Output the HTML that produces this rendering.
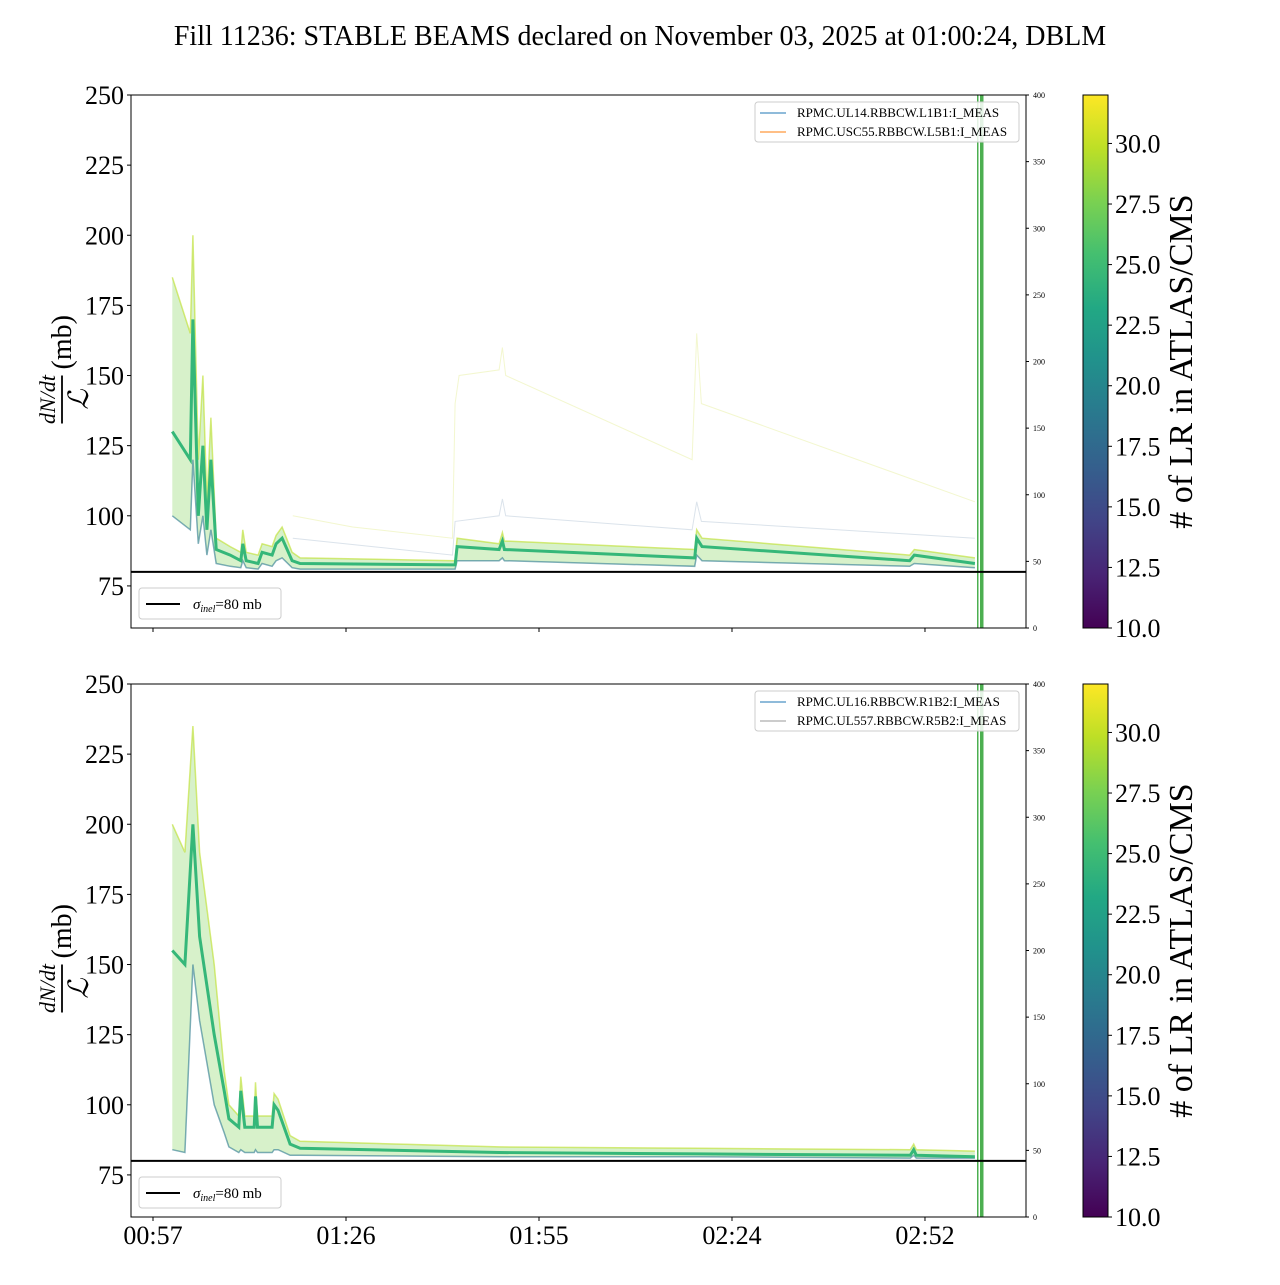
<!DOCTYPE html>
<html><head><meta charset="utf-8">
<style>
html,body{margin:0;padding:0;background:#fff;}
svg text{font-family:"Liberation Serif",serif;fill:#000;}
</style></head>
<body>
<svg id="fig" xmlns="http://www.w3.org/2000/svg" width="1280" height="1280" viewBox="0 0 1280 1280">
<defs>
<linearGradient id="viridis" x1="0" y1="1" x2="0" y2="0">
<stop offset="0" stop-color="#440154"/><stop offset="0.1" stop-color="#482475"/><stop offset="0.2" stop-color="#414487"/><stop offset="0.3" stop-color="#355f8d"/><stop offset="0.4" stop-color="#2a788e"/><stop offset="0.5" stop-color="#21918c"/><stop offset="0.6" stop-color="#22a884"/><stop offset="0.7" stop-color="#44bf70"/><stop offset="0.8" stop-color="#7ad151"/><stop offset="0.9" stop-color="#bddf26"/><stop offset="1" stop-color="#fde725"/>
</linearGradient>
</defs>
<text x="640" y="45" font-size="28" text-anchor="middle">Fill 11236: STABLE BEAMS declared on November 03, 2025 at 01:00:24, DBLM</text>
<g id="root"></g>
</svg>
<script>
// ---- data (time in minutes after 00:57) ----
const xTickLabels = ["00:57","01:26","01:55","02:24","02:52"];
const xTickMinutes = [0, 29, 58, 87, 116];
const yTickValues = [75,100,125,150,175,200,225,250];
const rightTickValues = [0,50,100,150,200,250,300,350,400];
const cbTickValues = [10,12.5,15,17.5,20,22.5,25,27.5,30];
const sigmaInel = 80;

// top panel
const topT    = [2.9,5.6,6.0,6.8,7.5,8.1,8.7,9.5,11.6,13.2,13.5,14.0,15.8,16.4,17.9,18.5,19.4,20.9,22.1,45.4,45.7,52.0,52.5,52.8,81.4,81.7,82.5,113.7,114.4,123.5];
const topMid  = [130,120,170,100,125,95,120,88,86,84,90,84,83,87,86,90,92,84,83,82.5,89,88,91,88,85,92,89,84,86,83];
const topLow  = [100,95,120,90,100,86,95,83,82,81.5,84,81.5,81,83,82,84,85,81.5,81,81,84,84,85,84,82,86,84,82,83,81.5];
const topHigh = [185,165,200,120,150,105,135,92,89,87,95,87,86,90,89,93,96,87,85,84,92,90,94,91,88,95,92,86,88,85];
const ghostYT = [21,30,45,45.4,46,52,52.5,53,81,81.7,82.4,123.5];
const ghostYV = [100,96,92,140,150,152,160,150,120,165,140,105];
const ghostGT = [21,45,45.4,52,52.5,53,81,81.7,82.4,123.5];
const ghostGV = [92,86,98,100,106,100,95,105,98,92];

// bottom panel
const botT    = [2.9,4.8,6.0,7.0,9.2,10.7,11.4,12.9,13.2,13.8,15.2,15.4,15.7,17.9,18.2,18.8,20.6,22.1,52.0,82.0,113.8,114.3,114.7,123.5];
const botMid  = [155,150,200,160,125,105,95,92,105,92,92,103,92,92,100,98,86,84.5,83,82.5,82,84,82,81.5];
const botLow  = [84,83,150,130,100,90,85,83,84,83,83,84,83,83,84,84,82,82,81.5,81.5,81,82,81,81];
const botHigh = [200,190,235,190,150,112,100,96,110,96,96,108,96,96,104,102,89,87,85,84.5,84,86,84,83.5];

// ---- layout ----
const X0=153, PXMIN=6.655;
function xs(t){return X0+t*PXMIN;}
function mkY(top,bottom){return v=>bottom-(v-60)*(bottom-top)/190;}
const NS="http://www.w3.org/2000/svg";
const root=document.getElementById('root');
function el(tag,attrs,parent){const e=document.createElementNS(NS,tag);for(const k in attrs)e.setAttribute(k,attrs[k]);(parent||root).appendChild(e);return e;}
function pts(T,V,ys){return T.map((t,i)=>xs(t).toFixed(1)+","+ys(V[i]).toFixed(1)).join(" ");}

function panel(top,bottom,T,low,mid,high,ghosts,legendNames,legendColors,showXLabels,prefix){
  const ys=mkY(top,bottom);
  const L=131,R=1026;
  const g=el('g',{});
  
  
  const clip=el('clipPath',{id:prefix+'clip'},g);
  el('rect',{x:L,y:top,width:R-L,height:bottom-top},clip);
  const plot=el('g',{'clip-path':'url(#'+prefix+'clip)'},g);
  const band=el('polygon',{points:pts(T,high,ys)+" "+pts(T.slice().reverse(),low.slice().reverse(),ys),fill:'#7ad151','fill-opacity':'0.3',stroke:'none'},plot);
  
  
  ghosts.forEach((gh,i)=>{
    const p=el('polyline',{points:pts(gh[0],gh[1],ys),fill:'none',stroke:gh[2],'stroke-width':1,'stroke-opacity':0.5},plot);
    
    
  });
  const hl=el('polyline',{points:pts(T,high,ys),fill:'none',stroke:'#bddf26','stroke-width':1.5,'stroke-opacity':0.6},plot);
  
  
  const ll=el('polyline',{points:pts(T,low,ys),fill:'none',stroke:'#2a788e','stroke-width':1.5,'stroke-opacity':0.6},plot);
  
  
  const ml=el('polyline',{points:pts(T,mid,ys),fill:'none',stroke:'#35b779','stroke-width':3},plot);
  
  
  el('rect',{x:977,y:top,width:1.5,height:bottom-top,fill:'#4caf50'},plot);
  el('rect',{x:980,y:top,width:3.5,height:bottom-top,fill:'#4caf50'},plot);
  const sl=el('line',{x1:L,x2:R,y1:ys(sigmaInel),y2:ys(sigmaInel),stroke:'#000','stroke-width':2},g);
  
  
  const fr=el('rect',{x:L,y:top,width:R-L,height:bottom-top,fill:'none',stroke:'#000','stroke-width':1},g);
  
  
  yTickValues.forEach(v=>{
    const y=ys(v);
    el('line',{x1:L-4,x2:L,y1:y,y2:y,stroke:'#000'},g);
    const t=el('text',{x:L-7,y:y+9,'font-size':26,'text-anchor':'end'},g);
    t.textContent=v;
    
    
  });
  rightTickValues.forEach(v=>{
    const y=bottom-v*(bottom-top)/400;
    el('line',{x1:R,x2:R+3,y1:y,y2:y,stroke:'#000'},g);
    const t=el('text',{x:R+7,y:y+3,'font-size':8},g);
    t.textContent=v;
    
    
  });
  xTickMinutes.forEach((m,i)=>{
    const x=xs(m);
    el('line',{x1:x,x2:x,y1:bottom,y2:bottom+4,stroke:'#000'},g);
    if(showXLabels){
      const t=el('text',{x:x,y:bottom+27,'font-size':26,'text-anchor':'middle'},g);
      t.textContent=xTickLabels[i];
      
      
    }
  });
  const yl=el('g',{transform:'translate(62,'+((top+bottom)/2)+') rotate(-90)'},g);
  
  
  const a=el('text',{x:-38,y:-7,'font-size':22,'text-anchor':'middle','font-style':'italic'},yl);a.textContent='dN/dt';
  el('line',{x1:-62,x2:-14,y1:0,y2:0,stroke:'#000','stroke-width':1.8},yl);
  const b=el('text',{x:-38,y:26,'font-size':28,'text-anchor':'middle','font-style':'italic'},yl);b.textContent='ℒ';
  const c=el('text',{x:-8,y:9,'font-size':28},yl);c.textContent=' (mb)';
  const lg=el('g',{},g);
  
  
  el('rect',{x:139,y:bottom-40,width:142,height:31,rx:3,fill:'#fff',stroke:'#ccc'},lg);
  el('line',{x1:146,x2:180,y1:bottom-24,y2:bottom-24,stroke:'#000','stroke-width':2},lg);
  const st=el('text',{x:193,y:bottom-19,'font-size':15},lg);
  st.innerHTML='<tspan font-style="italic">σ</tspan><tspan font-style="italic" font-size="10" dy="3">inel</tspan><tspan dy="-3">=80 mb</tspan>';
  const rg=el('g',{},g);
  
  
  el('rect',{x:755,y:top+7,width:264,height:40,rx:3,fill:'#fff','fill-opacity':0.85,stroke:'#ccc'},rg);
  legendNames.forEach((n,i)=>{
    const y=top+18+i*19;
    el('line',{x1:760,x2:786,y1:y,y2:y,stroke:legendColors[i],'stroke-width':1},rg);
    const t=el('text',{x:797,y:y+4,'font-size':13},rg);t.textContent=n;
  });
  const cb=el('g',{},g);
  
  
  el('rect',{x:1083,y:top,width:25,height:bottom-top,fill:'url(#viridis)',stroke:'#000','stroke-width':1},cb);
  const cs=v=>bottom-(v-10)*(bottom-top)/22;
  cbTickValues.forEach(v=>{
    const y=cs(v);
    el('line',{x1:1108,x2:1112,y1:y,y2:y,stroke:'#000'},cb);
    const t=el('text',{x:1115,y:y+9,'font-size':26},cb);t.textContent=v.toFixed(1);
  });
  const ct=el('text',{x:0,y:0,'font-size':34,'text-anchor':'middle',transform:'translate(1192,'+((top+bottom)/2)+') rotate(-90)'},cb);
  ct.textContent='# of LR in ATLAS/CMS';
}

panel(95,628,topT,topLow,topMid,topHigh,
  [[ghostYT,ghostYV,'#e8f0a0'],[ghostGT,ghostGV,'#b8c8d8']],
  ['RPMC.UL14.RBBCW.L1B1:I_MEAS','RPMC.USC55.RBBCW.L5B1:I_MEAS'],['#1f77b4','#ff7f0e'],false,'top');
panel(684,1217,botT,botLow,botMid,botHigh,[],
  ['RPMC.UL16.RBBCW.R1B2:I_MEAS','RPMC.UL557.RBBCW.R5B2:I_MEAS'],['#1f77b4','#999'],true,'bottom');
</script>
</body></html>
